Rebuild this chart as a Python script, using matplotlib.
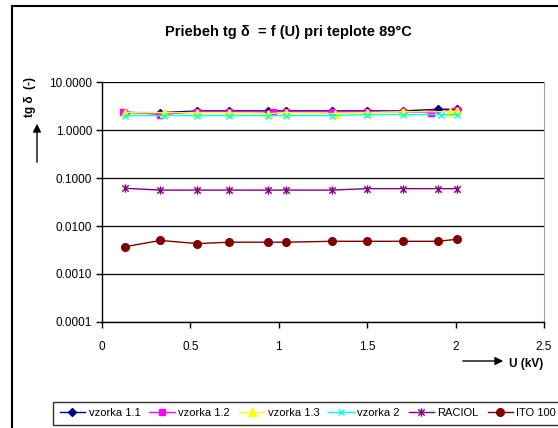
import matplotlib.pyplot as plt
from matplotlib.path import Path

plt.rcParams['font.family'] = ['Liberation Sans', 'DejaVu Sans']

# voltage points (kV)
u_11 = [0.13, 0.33, 0.54, 0.72, 0.94, 1.04, 1.30, 1.50, 1.70, 1.90, 2.01]
u_12 = [0.12, 0.33, 0.54, 0.72, 0.97, 1.04, 1.30, 1.50, 1.70, 1.86, 2.01]
u_13 = [0.13, 0.35, 0.54, 0.72, 0.94, 1.04, 1.32, 1.50, 1.70, 1.97, 2.01]
u_2 = [0.13, 0.35, 0.54, 0.72, 0.94, 1.04, 1.30, 1.50, 1.70, 1.92, 2.01]
u_rac = [0.13, 0.33, 0.54, 0.72, 0.94, 1.04, 1.30, 1.50, 1.70, 1.90, 2.01]
u_ito = [0.13, 0.33, 0.54, 0.72, 0.94, 1.04, 1.30, 1.50, 1.70, 1.90, 2.01]

# tg delta values
v_11 = [2.3, 2.3, 2.5, 2.5, 2.5, 2.5, 2.5, 2.5, 2.5, 2.7, 2.7]
v_12 = [2.4, 2.1, 2.4, 2.4, 2.4, 2.4, 2.4, 2.4, 2.4, 2.3, 2.6]
v_13 = [2.3, 2.3, 2.3, 2.3, 2.2, 2.3, 2.2, 2.3, 2.4, 2.4, 2.5]
v_2 = [2.0, 2.0, 2.0, 2.0, 2.0, 2.0, 2.0, 2.1, 2.1, 2.1, 2.1]
v_rac = [0.061, 0.056, 0.056, 0.056, 0.056, 0.056, 0.056, 0.060, 0.060, 0.060, 0.060]
v_ito = [0.0037, 0.0050, 0.0043, 0.0046, 0.0046, 0.0046, 0.0048, 0.0048, 0.0048, 0.0048, 0.0053]

labels = ['vzorka 1.1', 'vzorka 1.2', 'vzorka 1.3', 'vzorka 2', 'RACIOL', 'ITO 100']
yticks = [0.0001, 0.001, 0.01, 0.1, 1, 10]
ytick_labels = ['0.0001', '0.0010', '0.0100', '0.1000', '1.0000', '10.0000']
xticks = [0, 0.5, 1, 1.5, 2, 2.5]
xtick_labels = ['0', '0.5', '1', '1.5', '2', '2.5']

# excel style asterisk: x plus vertical bar
star = Path([(-1, -1), (1, 1), (-1, 1), (1, -1), (0, -1.3), (0, 1.3)],
            [Path.MOVETO, Path.LINETO, Path.MOVETO, Path.LINETO, Path.MOVETO, Path.LINETO])

fig = plt.figure(figsize=(5.58, 4.28), dpi=100)
ax = fig.add_axes([102/558, 1-322/428, 442/558, 240/428])

series = [
    (u_11, v_11, '#000080', 'D', 4),
    (u_12, v_12, '#FF00FF', 's', 5),
    (u_13, v_13, '#FFFF00', '^', 5.5),
    (u_2, v_2, '#00FFFF', 'x', 5),
    (u_rac, v_rac, '#800080', star, 6),
    (u_ito, v_ito, '#800000', 'o', 5.5),
]
for (x, y, col, mk, ms), lab in zip(series, labels):
    ax.plot(x, y, color=col, lw=1, marker=mk, ms=ms, mfc=col, mec=col,
            mew=1, label=lab)

ax.set_yscale('log')
ax.set_xlim(0, 2.5)
ax.set_ylim(0.0001, 10)
ax.set_yticks(yticks)
ax.set_yticklabels(ytick_labels)
ax.minorticks_off()
ax.set_xticks(xticks)
ax.set_xticklabels(xtick_labels)
ax.tick_params(labelsize=8.5, length=4, width=1, color='black', pad=3)
ax.tick_params(axis='x', pad=10)
ax.yaxis.grid(True, color='black', lw=0.9)
ax.set_axisbelow(True)
for s in ['left', 'bottom']:
    ax.spines[s].set_linewidth(1)
ax.spines['top'].set_visible(False)
ax.spines['right'].set_color('#A0A0A0')

fig.text(288/558, 1-32/428, 'Priebeh tg δ  = f (U) pri teplote 89°C',
         ha='center', va='center', fontsize=10.5, fontweight='bold')

# y label with upward arrow
fig.text(30/558, 1-97/428, 'tg δ  (-)', rotation=90, ha='center', va='center',
         fontsize=8.5, fontweight='bold')
ax.annotate('', xy=(37, 428-121), xytext=(37, 428-165), xycoords='figure pixels',
            textcoords='figure pixels',
            arrowprops=dict(arrowstyle='-|>', color='black', lw=1, mutation_scale=12))

# x label with arrow
fig.text(509/558, 1-364/428, 'U (kV)', ha='left', va='center',
         fontsize=8.5, fontweight='bold')
ax.annotate('', xy=(506, 428-361), xytext=(460, 428-361), xycoords='figure pixels',
            textcoords='figure pixels',
            arrowprops=dict(arrowstyle='-|>', color='black', lw=1, mutation_scale=12))

leg = fig.legend(loc='lower left', bbox_to_anchor=(53/558, 3/428), ncol=6,
                 fontsize=8, frameon=True, fancybox=False, edgecolor='black',
                 handlelength=2.3, handletextpad=0.3, columnspacing=0.8,
                 borderpad=0.6, borderaxespad=0)
leg.get_frame().set_linewidth(1)

# outer chart border
fig.add_artist(plt.Rectangle((12/558, -0.1), 1.2, 1.1 - 6/428, transform=fig.transFigure,
                             fill=False, ec='black', lw=1.5))

fig.savefig('out.png', dpi=100)
